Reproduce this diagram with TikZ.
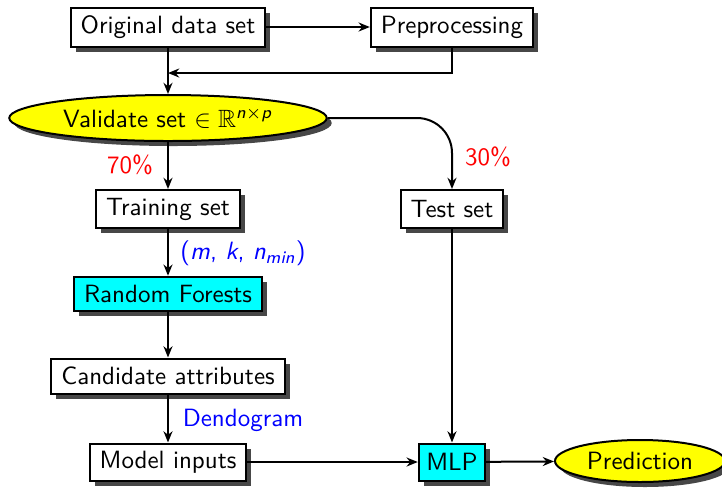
\documentclass[tikz,border=0pt]{standalone}
\usepackage{amssymb}
\usepackage{fontspec}
\usetikzlibrary{shapes.geometric,shadows,arrows.meta}
\definecolor{boxcyan}{RGB}{0,255,255}
\definecolor{boxyellow}{RGB}{255,255,0}
\definecolor{labred}{RGB}{255,0,0}
\definecolor{labblue}{RGB}{0,0,255}
\begin{document}
\begin{tikzpicture}[x=0.4pt,y=-0.4pt,
  font=\sffamily,
  >={Stealth[length=4.5pt,width=3.6pt]},
  conn/.style={->,line width=0.8pt},
  shad/.style={drop shadow={shadow xshift=2pt,shadow yshift=-2pt,fill=black!72,opacity=1}},
  box/.style={rectangle,draw,line width=0.8pt,fill=white,inner xsep=4pt,inner ysep=0pt,shad},
  cbox/.style={box,fill=boxcyan},
  ell/.style={ellipse,draw,line width=0.8pt,fill=boxyellow,inner sep=0pt,shad},
  red lab/.style={text=labred},
  blue lab/.style={text=labblue}]
\useasboundingbox (0,0) rectangle (722,489);
\node[box,minimum height=15.6pt] (orig) at (168,27) {Original data set};
\node[box,minimum height=15.6pt] (prep) at (452,27) {Preprocessing};
\node[ell,minimum width=127pt,minimum height=18.4pt] (val) at (168,118) {Validate set $\in\mathbb{R}$\textsuperscript{\textit{n}$\times$\textit{p}}};
\node[box,minimum height=15.2pt] (train) at (168,209) {Training set};
\node[box,minimum height=15.2pt] (test) at (452,209) {Test set};
\node[cbox,minimum height=13.8pt] (rf) at (168,294) {Random Forests};
\node[box,minimum height=14pt] (cand) at (168,376) {Candidate attributes};
\node[box,minimum height=14.8pt] (model) at (168,462) {Model inputs};
\node[cbox,minimum height=14.8pt,inner xsep=3pt] (mlp) at (452,462) {MLP};
\node[ell,minimum width=68pt,minimum height=16.8pt] (pred) at (640,461) {Prediction};
\coordinate (join) at (168,73);
\draw[conn] (orig) -- (prep);
\draw[conn] (prep.south) |- (join);
\draw[conn] (orig) -- (val);
\draw[conn,rounded corners=14pt] (val.east) -| (test.north);
\draw[conn] (val) -- (train);
\draw[conn] (train) -- (rf);
\draw[conn] (rf) -- (cand);
\draw[conn] (cand) -- (model);
\draw[conn] (model) -- (mlp);
\draw[conn] (test) -- (mlp);
\draw[conn] (mlp) -- (pred);
\node[red lab] (l70) at (130,165) {70\%};
\node[red lab] (l30) at (488,157) {30\%};
\node[blue lab] (lmk) at (243,253) {(\textit{m}, \textit{k}, \textit{n}\textsubscript{\textit{min}})};
\node[blue lab] (lden) at (243,420) {Dendogram};
\end{tikzpicture}
\end{document}
